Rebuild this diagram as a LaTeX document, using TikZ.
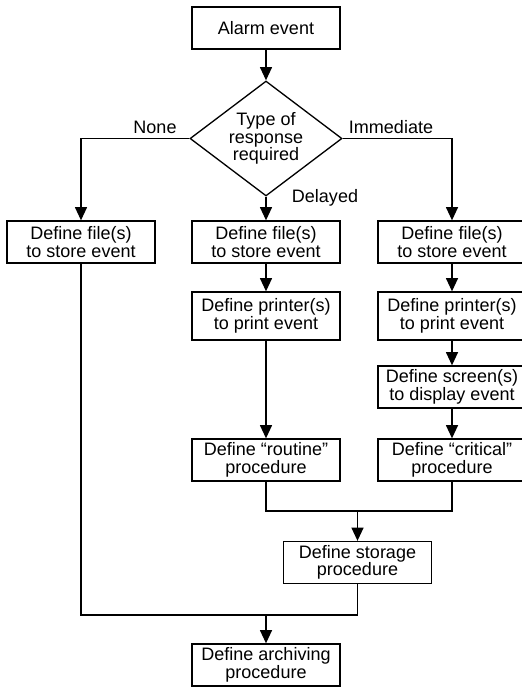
\documentclass[tikz,border=0pt]{standalone}
\usepackage{fontspec}
\setmainfont{Liberation Sans}
\usetikzlibrary{arrows.meta,shapes.geometric}
\newcommand{\flowfont}{\fontsize{10.25}{10}\selectfont}
\tikzset{box/.style={draw=black,fill=white,align=center,minimum width=2.96cm,minimum height=0.84cm,inner sep=2pt,line width=.75pt,font=\flowfont},choice/.style={draw=black,diamond,aspect=1.32,align=center,minimum width=3.04cm,minimum height=2.3cm,inner sep=0pt,line width=.75pt,font=\flowfont},arr/.style={-{Triangle[length=7.5pt,width=6.8pt]},line width=.75pt},link/.style={line width=.75pt},lab/.style={font=\flowfont,inner sep=0pt}}

\begin{document}
\begin{tikzpicture}[x=1cm,y=1cm]
\useasboundingbox (0,0) rectangle (10.42,-13.74);
\node[box] (alarm) at (5.32,-0.56) {Alarm event};
\node[choice] (type) at (5.32,-2.77) {Type of\\response\\required};
\node[box] (fileN) at (1.62,-4.84) {Define file(s)\\to store event};
\node[box] (fileD) at (5.32,-4.84) {Define file(s)\\to store event};
\node[box] (fileI) at (9.04,-4.84) {Define file(s)\\to store event};
\node[box,minimum height=0.96cm] (prnD) at (5.32,-6.32) {Define printer(s)\\to print event};
\node[box,minimum height=0.96cm] (prnI) at (9.04,-6.32) {Define printer(s)\\to print event};
\node[box] (scrI) at (9.04,-7.74) {Define screen(s)\\to display event};
\node[box] (routD) at (5.32,-9.20) {Define “routine”\\procedure};
\node[box] (critI) at (9.04,-9.20) {Define “critical”\\procedure};
\node[box] (store) at (7.15,-11.25) {Define storage\\procedure};
\node[box] (arch) at (5.32,-13.30) {Define archiving\\procedure};
\node[lab] (none) at (3.10,-2.54) {None};
\node[lab] (imm) at (7.82,-2.54) {Immediate};
\node[lab] (del) at (6.50,-3.96) {Delayed};
\coordinate (merge) at (7.15,-10.22);
\coordinate (join) at (5.32,-12.30);
\draw[arr] (alarm) -- (type);
\draw[arr] (type.west) -| (fileN);
\draw[arr] (type) -- (fileD);
\draw[arr] (type.east) -| (fileI);
\draw[arr] (fileD) -- (prnD);
\draw[arr] (prnD) -- (routD);
\draw[arr] (fileI) -- (prnI);
\draw[arr] (prnI) -- (scrI);
\draw[arr] (scrI) -- (critI);
\draw[link] (routD) |- (merge) -| (critI);
\draw[arr] (merge) -- (store);
\draw[link] (fileN) |- (join) -| (store);
\draw[arr] (join) -- (arch);
\end{tikzpicture}
\end{document}
